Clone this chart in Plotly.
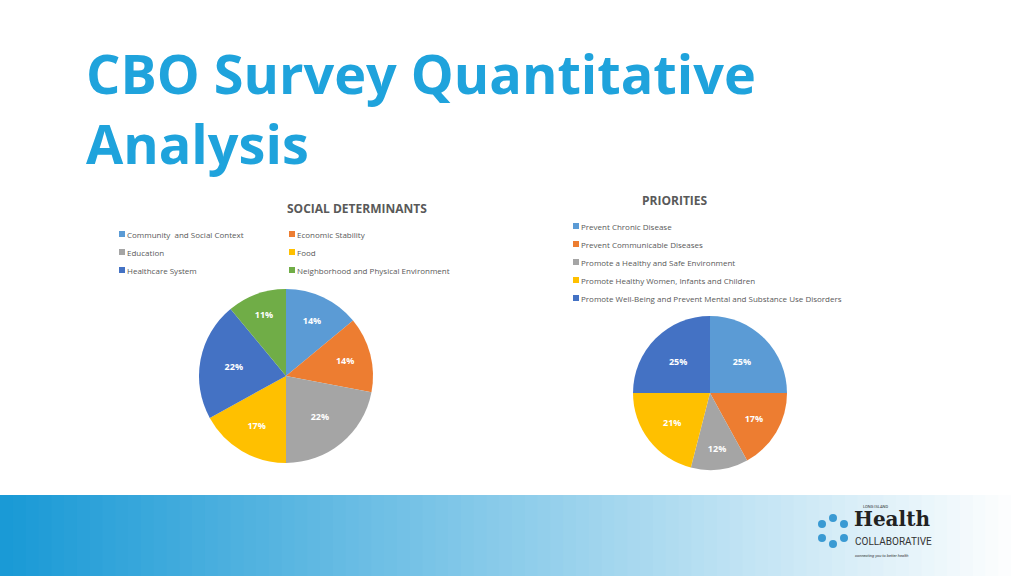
import plotly.graph_objects as go

W, H = 1024, 576

sd_labels = ["Community  and Social Context", "Economic Stability", "Education", "Food",
             "Healthcare System", "Neighborhood and Physical Environment"]
sd_values = [14, 14, 22, 17, 22, 11]
sd_colors = ["#5b9bd5", "#ed7d31", "#a5a5a5", "#ffc000", "#4472c4", "#70ad47"]

pr_labels = ["Prevent Chronic Disease", "Prevent Communicable Diseases",
             "Promote a Healthy and Safe Environment", "Promote Healthy Women, Infants and Children",
             "Promote Well-Being and Prevent Mental and Substance Use Disorders"]
pr_values = [25, 17, 12, 21, 25]
pr_colors = ["#5b9bd5", "#ed7d31", "#a5a5a5", "#ffc000", "#4472c4"]


def px(x0, x1):
    return [x0 / W, x1 / W]


def py(top, bottom):
    return [1 - bottom / H, 1 - top / H]


fig = go.Figure()
fig.add_trace(go.Pie(values=sd_values, labels=sd_labels, sort=False, direction="clockwise",
                     rotation=0, marker=dict(colors=sd_colors, line=dict(color="#ffffff", width=0)),
                     texttemplate="<b>%{value}%</b>", textposition="inside",
                     textfont=dict(color="white", size=9, family="Open Sans"),
                     domain=dict(x=px(199, 373), y=py(289, 463)), showlegend=False))
fig.add_trace(go.Pie(values=pr_values, labels=pr_labels, sort=False, direction="clockwise",
                     rotation=0, marker=dict(colors=pr_colors, line=dict(color="#ffffff", width=0)),
                     texttemplate="<b>%{value}%</b>", textposition="inside",
                     textfont=dict(color="white", size=9, family="Open Sans"),
                     domain=dict(x=px(633, 787), y=py(316, 470)), showlegend=False))

shapes = []
ann = []

# bottom gradient band
n = 80
for i in range(n):
    t = i / (n - 1)
    c0, c1 = (26, 154, 214), (255, 255, 255)
    col = tuple(int(c0[k] + (c1[k] - c0[k]) * t) for k in range(3))
    shapes.append(dict(type="rect", xref="paper", yref="paper",
                       x0=i / n, x1=(i + 1) / n + 0.001, y0=0, y1=81 / H,
                       fillcolor="rgb(%d,%d,%d)" % col, line=dict(width=0), layer="below"))

ann.append(dict(text="<b>CBO Survey Quantitative<br>Analysis</b>", x=84 / W, y=1 - 34 / H,
                xanchor="left", yanchor="top", align="left", showarrow=False,
                font=dict(family="Open Sans", size=54, color="#1fa3dc")))
ann.append(dict(text="<b>SOCIAL DETERMINANTS</b>", x=285 / W, y=1 - 208 / H, showarrow=False,
                font=dict(family="Open Sans", size=12, color="#595959")))
ann.append(dict(text="<b>PRIORITIES</b>", x=710 / W, y=1 - 200 / H, showarrow=False,
                font=dict(family="Open Sans", size=12, color="#595959")))

sd_pos = [(119, 234), (289, 234), (119, 252), (289, 252), (119, 270), (289, 270)]
for (x, y), lab, c in zip(sd_pos, sd_labels, sd_colors):
    shapes.append(dict(type="rect", xref="paper", yref="paper", x0=x / W, x1=(x + 6) / W,
                       y0=1 - (y + 3) / H, y1=1 - (y - 3) / H, fillcolor=c, line=dict(width=0)))
    ann.append(dict(text=lab, x=(x + 6) / W, y=1 - y / H, xanchor="left", showarrow=False,
                    font=dict(family="Open Sans", size=8, color="#595959")))
for i, (lab, c) in enumerate(zip(pr_labels, pr_colors)):
    x, y = 573, 226 + 18 * i
    shapes.append(dict(type="rect", xref="paper", yref="paper", x0=x / W, x1=(x + 6) / W,
                       y0=1 - (y + 3) / H, y1=1 - (y - 3) / H, fillcolor=c, line=dict(width=0)))
    ann.append(dict(text=lab, x=(x + 6) / W, y=1 - y / H, xanchor="left", showarrow=False,
                    font=dict(family="Open Sans", size=8, color="#595959")))

# logo
for dx, dy in [(0, -13), (11, -7), (11, 7), (0, 13), (-11, 7), (-11, -7)]:
    cx, cy = 833 + dx, 531 + dy
    shapes.append(dict(type="circle", xref="paper", yref="paper", x0=(cx - 4) / W, x1=(cx + 4) / W,
                       y0=1 - (cy + 4) / H, y1=1 - (cy - 4) / H, fillcolor="#3a9ad3", line=dict(width=0)))
ann.append(dict(text="LONG ISLAND", x=890 / W, y=1 - 511 / H, showarrow=False,
                font=dict(family="Roboto", size=4, color="#333")))
ann.append(dict(text="<b>Health</b>", x=852 / W, y=1 - 533 / H, xanchor="left", showarrow=False,
                font=dict(family="DejaVu Serif", size=20, color="#222")))
ann.append(dict(text="COLLABORATIVE", x=853 / W, y=1 - 549 / H, xanchor="left", showarrow=False,
                font=dict(family="Roboto", size=10, color="#333")))
ann.append(dict(text="<i>connecting you to better health</i>", x=853 / W, y=1 - 560 / H,
                xanchor="left", showarrow=False, font=dict(family="Roboto", size=4, color="#333")))

fig.update_layout(width=W, height=H, margin=dict(l=0, r=0, t=0, b=0),
                  paper_bgcolor="white", plot_bgcolor="white", shapes=shapes, annotations=ann)
fig.write_html("out.html", config={"displayModeBar": False},
               post_script="document.body.style.margin='0';")
